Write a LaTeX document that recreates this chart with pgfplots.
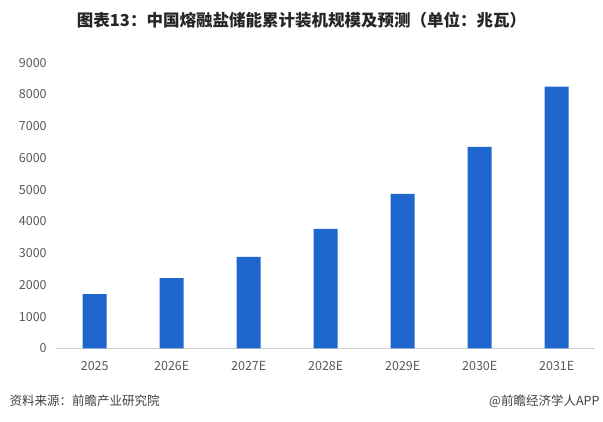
\documentclass[border=0pt]{standalone}
\usepackage{pgfplots}
\pgfplotsset{compat=1.18}
\usetikzlibrary{calc}
\usepackage{fontspec}
\setmainfont{Noto Sans CJK SC}
\definecolor{barblue}{HTML}{1F66CF}
\definecolor{txtgray}{HTML}{595959}
\definecolor{axgray}{HTML}{D0D0D0}
\begin{document}
\begin{tikzpicture}[x=1pt,y=1pt]
\begin{axis}[
  scale only axis, width=539pt, height=285.6pt,
  xmin=-0.5, xmax=6.5, ymin=0, ymax=9000,
  xtick={0,...,6},
  xticklabels={2025,2026E,2027E,2028E,2029E,2030E,2031E},
  ytick={0,1000,...,9000},
  axis lines*=left,
  y axis line style={draw=none},
  x axis line style={draw=axgray, line width=0.8pt},
  major tick length=0pt,
  /pgf/number format/assume math mode=true,
  /pgf/number format/1000 sep={},
  tick label style={font=\fontsize{12.5}{14}\selectfont, text=txtgray},
  yticklabel style={xshift=-6pt},
  xticklabel style={yshift=-10pt},
  clip=false,
]
\addplot[ybar, bar width=24pt, fill=barblue, draw=none] coordinates {
  (0,1710) (1,2215) (2,2880) (3,3760) (4,4865) (5,6345) (6,8245)
};
\coordinate (ax0) at (rel axis cs:0,0);
\end{axis}
\coordinate (O) at ($(ax0)+(-56.2pt,-72.7pt)$);
\begin{scope}[shift={(O)}]
\node[font=\fontsize{16.5}{18}\selectfont\bfseries, text=black!85] at (301.5,401) {图表13：中国熔融盐储能累计装机规模及预测（单位：兆瓦）};
\node[anchor=west, font=\fontsize{12.5}{14}\selectfont, text=black!75] at (6,20) {资料来源：前瞻产业研究院};
\node[anchor=east, font=\fontsize{12.5}{14}\selectfont, text=black!75] at (603,20) {@前瞻经济学人APP};
\end{scope}
\pgfresetboundingbox
\path[use as bounding box] (O) rectangle ($(O)+(603pt,421pt)$);
\end{tikzpicture}
\end{document}
